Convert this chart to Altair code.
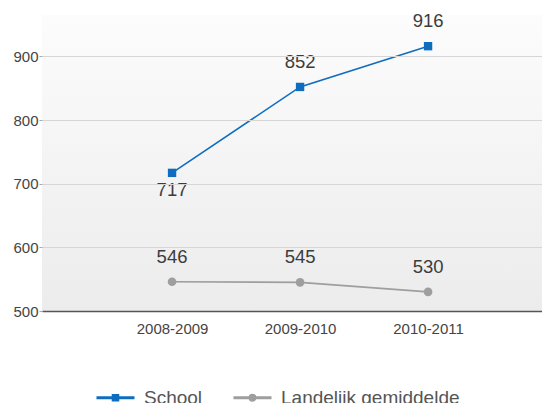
import altair as alt
import pandas as pd

years = ["2008-2009", "2009-2010", "2010-2011"]
school = [717, 852, 916]
landelijk = [546, 545, 530]
series_names = ["School", "Landelijk gemiddelde"]
y_ticks = [500, 600, 700, 800, 900]

BLUE = "#0f6dc0"
GRAY = "#9e9e9e"
FONT = "Liberation Sans"
W, H = 500, 296

rows = []
for y, v in zip(years, school):
    rows.append({"year": y, "value": v, "series": series_names[0]})
for y, v in zip(years, landelijk):
    rows.append({"year": y, "value": v, "series": series_names[1]})
df = pd.DataFrame(rows)

years_js = "[" + ",".join("'%s'" % y for y in years) + "]"

sym_square = "M-1,0H1M-0.12,-0.12H0.12V0.12H-0.12Z"
sym_circle = "M-1,0H1M0.13,0A0.13,0.13,0,1,1,-0.13,0A0.13,0.13,0,1,1,0.13,0Z"

xs = alt.X("idx:Q",
           scale=alt.Scale(domain=[-1.016, 2.89], nice=False, zero=False),
           axis=alt.Axis(title=None, values=[0, 1, 2], ticks=False, labelPadding=10,
                         labelExpr=years_js + "[datum.value]",
                         labelFont=FONT, labelFontSize=15, labelColor="#444",
                         labelFlush=False, labelOverlap=False,
                         domainColor="#555", domainWidth=1.5, grid=False, zindex=1))
ys = alt.Y("value:Q",
           scale=alt.Scale(domain=[500, 965], nice=False, zero=False),
           axis=alt.Axis(title=None, values=y_ticks, domain=False, grid=True,
                         gridColor="#d6d6d6", gridWidth=1, ticks=True, tickSize=3,
                         tickColor="#aaa", labelPadding=1, labelFont=FONT,
                         labelFontSize=15, labelColor="#444", zindex=1))

legend = alt.Legend(title=None, orient="none", legendX=53, legendY=362,
                    direction="horizontal", columnPadding=24, labelOffset=8,
                    labelLimit=400,
                    labelFont=FONT, labelFontSize=19, labelColor="#555",
                    symbolSize=1444, symbolStrokeWidth=3, symbolOpacity=1)

color = alt.Color("series:N", scale=alt.Scale(domain=series_names, range=[BLUE, GRAY]),
                  legend=legend)

bg = alt.Chart(alt.Data(values=[{}])).mark_rect(
    color=alt.Gradient(gradient="linear",
                       stops=[alt.GradientStop(offset=0, color="#fcfcfc"),
                              alt.GradientStop(offset=1, color="#ececec")],
                       x1=0, x2=0, y1=0, y2=1)
).encode(x=alt.value(0), x2=alt.value(W), y=alt.value(0), y2=alt.value(H))

base = alt.Chart(df).transform_calculate(idx="indexof(" + years_js + ", datum.year)")

lines = base.mark_line(strokeWidth=1.6).encode(x=xs, y=ys, color=color, detail="series:N")

legend_pts = base.mark_point(opacity=0, size=1444).encode(
    x=xs, y=ys, color=color,
    shape=alt.Shape("series:N", scale=alt.Scale(domain=series_names,
                                                range=[sym_square, sym_circle]),
                    legend=legend))

sq = base.transform_filter(alt.datum.series == series_names[0]).mark_square(
    size=70, color=BLUE, opacity=1).encode(x=xs, y=ys)
ci = base.transform_filter(alt.datum.series == series_names[1]).mark_circle(
    size=75, color=GRAY, opacity=1).encode(x=xs, y=ys)

below_cond = (alt.datum.series == series_names[0]) & (alt.datum.year == years[0])

txt_above = base.transform_filter(~below_cond).mark_text(
    dy=-19, baseline="alphabetic", font=FONT, fontSize=18.5, color="#3c3c3c"
).encode(x=xs, y=ys, text="value:Q")
txt_below = base.transform_filter(below_cond).mark_text(
    dy=23, baseline="alphabetic", font=FONT, fontSize=18.5, color="#3c3c3c"
).encode(x=xs, y=ys, text="value:Q")

chart = alt.layer(bg, lines, legend_pts, sq, ci, txt_above, txt_below).properties(
    width=W, height=H,
    autosize=alt.AutoSizeParams(type="none"),
    padding={"left": 42, "top": 15, "right": 0, "bottom": 92},
    background="white",
).configure_view(stroke=None)

chart.save("out.html", embed_options={"renderer": "svg", "actions": False})
